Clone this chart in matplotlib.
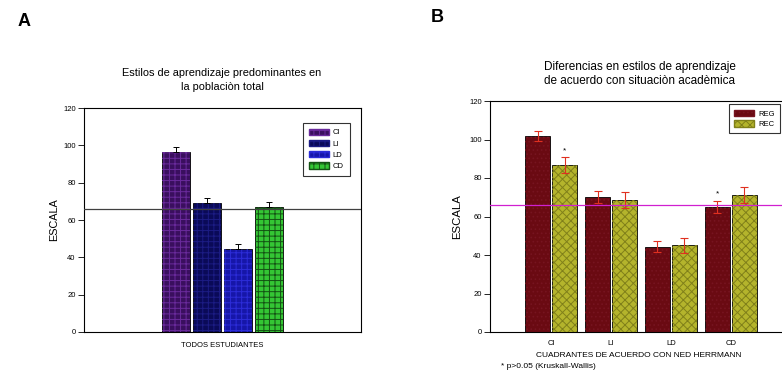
import numpy as np
import matplotlib
matplotlib.use("Agg")
import matplotlib.pyplot as plt
from matplotlib.patches import Patch

plt.rcParams['font.family'] = ['Liberation Sans', 'DejaVu Sans']

# panel A data
a_labels = ['CI', 'LI', 'LD', 'CD']
a_values = [96.5, 69.2, 44.5, 67.0]
a_err = [2.5, 2.6, 2.4, 2.5]
a_ref = 66

# panel B data
b_groups = ['CI', 'LI', 'LD', 'CD']
reg_values = [101.8, 70.1, 44.3, 65.0]
reg_err = [2.8, 3.3, 3.0, 3.2]
rec_values = [86.8, 68.6, 45.0, 71.0]
rec_err = [4.0, 4.2, 4.0, 4.2]
b_ref = 66
b_stars = [(0, 'REC'), (3, 'REG')]

W, H = 782, 373
fig = plt.figure(figsize=(W / 100, H / 100), dpi=100)
fig.patch.set_facecolor('white')


def px_axes(left, top, right, bottom):
    return fig.add_axes([left / W, (H - bottom) / H, (right - left) / W, (bottom - top) / H])


def hatched_bar(ax, x, h, w, face, hatchc, hatch):
    ax.bar(x, h, w, color=face, edgecolor='black', linewidth=0.6, zorder=2)
    ax.bar(x, h, w, fill=False, edgecolor=hatchc, hatch=hatch, linewidth=0, zorder=3)


def style_axis(ax):
    for s in ax.spines.values():
        s.set_linewidth(0.8)
    ax.set_ylim(0, 120)
    ax.set_yticks(range(0, 121, 20))
    ax.tick_params(axis='y', direction='out', length=4, width=0.6, labelsize=5.5, pad=2)
    ax.tick_params(axis='x', length=0, labelsize=5.5)


plt.rcParams['hatch.linewidth'] = 0.7

# ---------------- panel A
axA = px_axes(84, 108, 361, 332)
style_axis(axA)
a_face = ['#3a0f5e', '#0a0a58', '#1616a8', '#34c634']
a_hatch = ['#6a2a9c', '#1c1c84', '#2c2cd8', '#145214']
xs = np.arange(len(a_labels))
for i in range(len(a_labels)):
    hatched_bar(axA, xs[i], a_values[i], 0.9, a_face[i], a_hatch[i], '+++')
axA.errorbar(xs, a_values, yerr=[np.zeros(len(a_err)), a_err], fmt='none',
             ecolor='black', elinewidth=0.7, capsize=2.5, capthick=0.7, zorder=4)
axA.axhline(a_ref, color='#404040', lw=0.9, zorder=5)
axA.set_xlim(-2.97, 5.97)
axA.set_xticks([1.5])
axA.set_xticklabels(['TODOS ESTUDIANTES'])
axA.tick_params(axis='x', pad=7)
axA.set_ylabel('ESCALA', fontsize=7.8, labelpad=3)
fig.text(222 / W, 1 - 80 / H, 'Estilos de aprendizaje predominantes en\nla poblaciòn total',
         fontsize=7.9, ha='center', va='center', linespacing=1.45)
handles = [Patch(facecolor=a_face[i], edgecolor=a_hatch[i], hatch='+++', label=a_labels[i])
           for i in range(len(a_labels))]
legA = axA.legend(handles=handles, loc='upper left', bbox_to_anchor=(0.79, 0.935),
                  borderaxespad=0, fontsize=5.5, frameon=True, fancybox=False,
                  handlelength=2.6, handleheight=0.9, labelspacing=0.45, borderpad=0.8,
                  handletextpad=0.5)
legA.get_frame().set_edgecolor('black')
legA.get_frame().set_linewidth(0.8)
fig.text(18 / W, 1 - 22 / H, 'A', fontsize=13, ha='left', va='center', weight='bold')

# ---------------- panel B
axB = px_axes(490, 101, 792, 332)
style_axis(axB)
gx = np.arange(len(b_groups))
off, bw = 0.225, 0.42
reg_face, reg_hatch = '#6a0a12', '#761420'
rec_face, rec_hatch = '#b4b42c', '#80801a'
for i in range(len(b_groups)):
    hatched_bar(axB, gx[i] - off, reg_values[i], bw, reg_face, reg_hatch, '....')
    hatched_bar(axB, gx[i] + off, rec_values[i], bw, rec_face, rec_hatch, 'xxxx')
axB.errorbar(gx - off, reg_values, yerr=reg_err, fmt='none', ecolor='#e03020',
             elinewidth=0.8, capsize=3, capthick=0.8, zorder=4)
axB.errorbar(gx + off, rec_values, yerr=rec_err, fmt='none', ecolor='#e03020',
             elinewidth=0.8, capsize=3, capthick=0.8, zorder=4)
axB.axhline(b_ref, color='#d020d0', lw=0.9, zorder=5)
for g, series in b_stars:
    if series == 'REG':
        xx, top = gx[g] - off, reg_values[g] + reg_err[g]
    else:
        xx, top = gx[g] + off, rec_values[g] + rec_err[g]
    axB.text(xx, top + 1.5, '*', fontsize=6, ha='center', va='bottom')
axB.set_xlim(-1.02, 4.02)
axB.set_xticks(gx)
axB.set_xticklabels(b_groups)
axB.tick_params(axis='x', pad=6)
axB.set_xlabel('CUADRANTES DE ACUERDO CON NED HERRMANN', fontsize=6, labelpad=1)
axB.xaxis.set_label_coords((639 - 490) / 302, -0.085)
axB.set_ylabel('ESCALA', fontsize=8.2, labelpad=5)
fig.text(501 / W, 1 - 367 / H, '* p>0.05 (Kruskall-Wallis)', fontsize=6, ha='left', va='center')
fig.text(640 / W, 1 - 74 / H, 'Diferencias en estilos de aprendizaje\nde acuerdo con situaciòn acadèmica',
         fontsize=8.5, ha='center', va='center', linespacing=1.2)
handlesB = [Patch(facecolor=reg_face, edgecolor=reg_hatch, hatch='....', label='REG'),
            Patch(facecolor=rec_face, edgecolor=rec_hatch, hatch='xxxx', label='REC')]
legB = axB.legend(handles=handlesB, loc='upper left', bbox_to_anchor=(0.791, 0.985),
                  borderaxespad=0, fontsize=5.5, frameon=True, fancybox=False,
                  handlelength=2.6, handleheight=0.9, labelspacing=0.35, borderpad=0.7,
                  handletextpad=0.5)
legB.get_frame().set_edgecolor('black')
legB.get_frame().set_linewidth(0.8)
fig.text(431 / W, 1 - 17 / H, 'B', fontsize=13, ha='left', va='center', weight='bold')

fig.savefig('out.png', dpi=100)
